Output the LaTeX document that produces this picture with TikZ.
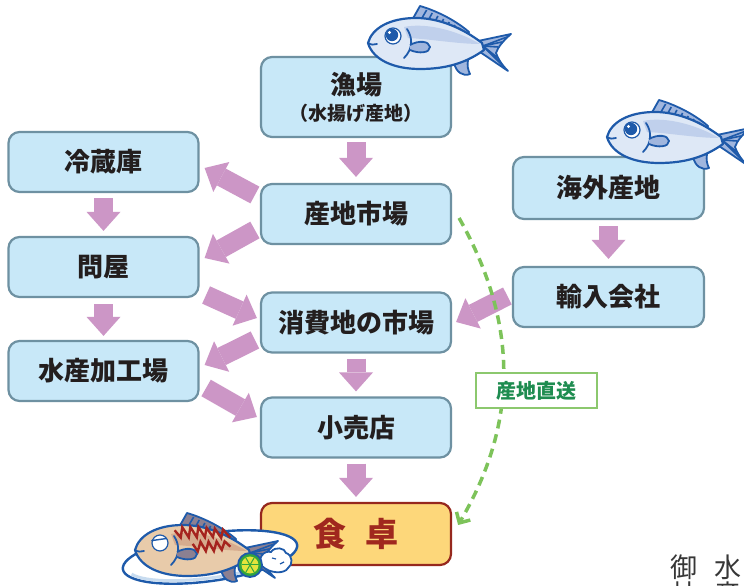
\documentclass[tikz,border=0pt]{standalone}
\usepackage{fontspec}
\setmainfont{Noto Sans CJK JP}
\usetikzlibrary{arrows.meta,calc}

\definecolor{boxfill}{RGB}{200,232,248}
\definecolor{boxline}{RGB}{110,145,162}
\definecolor{flowc}{RGB}{204,150,198}
\definecolor{inkc}{RGB}{35,30,30}
\definecolor{tablefill}{RGB}{253,215,122}
\definecolor{tableline}{RGB}{150,40,30}
\definecolor{tabletext}{RGB}{160,40,30}
\definecolor{directc}{RGB}{125,195,90}
\definecolor{directtext}{RGB}{30,140,80}
\definecolor{directline}{RGB}{140,200,110}
\definecolor{fishline}{RGB}{30,90,170}
\definecolor{bodyblue}{RGB}{222,232,246}
\definecolor{bandblue}{RGB}{192,208,236}
\definecolor{finblue}{RGB}{160,182,222}
\definecolor{grilltan}{RGB}{232,203,170}
\definecolor{grilldark}{RGB}{214,172,142}
\definecolor{grillfin}{RGB}{140,128,145}
\definecolor{grillmark}{RGB}{165,35,30}
\definecolor{limegreen}{RGB}{50,165,60}
\definecolor{limeyellow}{RGB}{228,228,60}
\definecolor{platerim}{RGB}{200,220,240}
\definecolor{sealgray}{RGB}{55,55,55}

\tikzset{
  stage/.style={draw=boxline, fill=boxfill, line width=2.2pt, rounded corners=11pt,
    minimum width=190pt, minimum height=60pt, inner sep=0pt, align=center,
    font=\fontsize{26}{29}\selectfont\bfseries, text=inkc},
  flow/.style={draw=flowc, line width=19pt,
    -{Triangle[length=19pt,width=34pt,line width=0pt]}},
  direct/.style={draw=directc, line width=3.5pt, dash pattern=on 9pt off 6pt,
    -{Straight Barb[length=8pt,width=16pt,line width=3.5pt]}},
  directlabel/.style={draw=directline, fill=white, line width=2.5pt,
    minimum width=121pt, minimum height=35pt, inner sep=0pt,
    font=\fontsize{20}{22}\selectfont\bfseries, text=directtext},
  fishfin/.style={draw=fishline, fill=finblue, line width=1.8pt, line join=round},
  fishstripe/.style={draw=fishline, line width=1.6pt},
  fishbody/.style={fill=bodyblue},
  fishband/.style={fill=bandblue},
  fishoutline/.style={draw=fishline, line width=2.2pt, line join=round},
  fishdetail/.style={draw=fishline, line width=1.8pt, line cap=round},
  fisheye/.style={draw=fishline, fill=white, line width=1.2pt},
  fishpupil/.style={fill=fishline},
  fishglint/.style={fill=white},
  fish/.pic={
    % tail fin
    \path[fishfin] (110,2) -- (143,9) .. controls (135,2) and (130,-4) .. (128,-10)
      .. controls (130,-16) and (134,-22) .. (140,-28) -- (112,-9) -- cycle;
    \foreach \q/\r in {139/6,134/1,130/-4,130/-15,133/-20,136/-24}
      \draw[fishstripe] (115,-3) -- (\q,\r);
    % dorsal fin
    \path[fishfin] (43,21) -- (52,37) .. controls (66,33) and (86,24) .. (101,11)
      -- (99,4) -- cycle;
    \foreach \q in {0.12,0.24,0.36,0.48,0.6,0.72,0.84}
      \draw[fishstripe] ({44+55*\q},{21-15*\q}) -- ({53+47*\q},{36-25*\q});
    % pelvic fin
    \path[fishfin] (86,-20) .. controls (88,-29) and (95,-34) .. (102,-31)
      .. controls (100,-27) and (99,-23) .. (100,-17) -- cycle;
    % body
    \path[fishbody] (0,0) .. controls (4,15) and (22,25) .. (48,25)
      .. controls (72,25) and (96,14) .. (114,0) -- (116,-7)
      .. controls (98,-20) and (78,-26) .. (52,-26)
      .. controls (26,-26) and (5,-17) .. (0,0) -- cycle;
    \path[fishband] (36,16) .. controls (60,21) and (92,11) .. (112,-1)
      .. controls (90,-1) and (62,4) .. (40,5) -- cycle;
    \path[fishoutline] (0,0) .. controls (4,15) and (22,25) .. (48,25)
      .. controls (72,25) and (96,14) .. (114,0) -- (116,-7)
      .. controls (98,-20) and (78,-26) .. (52,-26)
      .. controls (26,-26) and (5,-17) .. (0,0) -- cycle;
    % gill, pectoral fin, mouth
    \draw[fishdetail] (39,14) .. controls (45,5) and (45,-6) .. (36,-15);
    \path[fishfin] (42,-2) .. controls (51,3) and (61,2) .. (62,-4)
      .. controls (62,-10) and (51,-11) .. (42,-7);
    \draw[fishdetail] (0,0) .. controls (3,-2) and (6,-2) .. (9,-1);
    % eye
    \path[fisheye] (25,7) circle[radius=8];
    \path[fishpupil] (24,8) circle[radius=6.2];
    \path[fishglint] (21.5,10.5) circle[radius=1.6];
  }
}

\begin{document}
\begin{tikzpicture}[x=1pt,y=1pt]
\path[use as bounding box, fill=white] (0,0) rectangle (744,586);

% stages of the supply chain
\node[stage, minimum height=80pt] (gyojo) at (356,489)
  {漁場\\[-3pt]{\fontsize{19}{21}\selectfont （水揚げ産地）}};
\node[stage] (sanchi) at (356,372) {産地市場};
\node[stage] (shohi)  at (356,263.5) {消費地の市場};
\node[stage] (kouri)  at (356,158.5) {小売店};
\node[stage, draw=tableline, fill=tablefill, minimum height=62pt,
  font=\fontsize{33}{36}\selectfont\bfseries, text=tabletext] (table) at (356,52)
  {食\hspace{0.6em}卓};
\node[stage] (reizo) at (103.5,424) {冷蔵庫};
\node[stage] (tonya) at (103.5,319) {問屋};
\node[stage] (kako)  at (103.5,215) {水産加工場};
\node[stage, minimum width=191pt, minimum height=62pt] (kaigai) at (608.5,398) {海外産地};
\node[stage, minimum width=191pt] (yunyu) at (608.5,289) {輸入会社};

% vertical flows
\draw[flow, shorten <=4pt, shorten >=6pt] (gyojo) -- (sanchi);
\draw[flow, shorten <=5pt, shorten >=5pt] (reizo) -- (tonya);
\draw[flow, shorten <=6pt, shorten >=4pt] (tonya) -- (kako);
\draw[flow, shorten <=5pt, shorten >=5pt] (shohi) -- (kouri);
\draw[flow, shorten <=5pt, shorten >=5pt] (kouri) -- (table);
\draw[flow, shorten <=6pt, shorten >=7pt] (kaigai) -- (yunyu);

% diagonal flows
\draw[flow] ($(sanchi.west)+(-5,19)$) -- ($(reizo.east)+(5,-6)$);
\draw[flow] ($(sanchi.west)+(-5,-16)$) -- ($(tonya.east)+(5,9)$);
\draw[flow] ($(tonya.east)+(6.5,-28)$) -- ($(shohi.west)+(-3,4.5)$);
\draw[flow] ($(shohi.west)+(-5,-17.5)$) -- ($(kako.east)+(5,6)$);
\draw[flow] ($(kako.east)+(6.5,-17)$) -- ($(kouri.west)+(-3,10.5)$);
\draw[flow] ($(yunyu.west)+(-4.5,1)$) -- ($(shohi.east)+(4,0.5)$);

% direct delivery from the landing market
\draw[direct] ($(sanchi.east)+(7,-4)$) .. controls (520,260) and (517,161) .. ($(table.east)+(6,9)$);
\node[directlabel] (directtag) at (536.5,195.5) {産地直送};

% fish on the landing port and the overseas origin
\pic at (368,543) {fish};
\pic at (607,449) {fish};

% grilled fish on a plate
\begin{scope}[shift={(210,29)}, rotate=8]
  \path[draw=fishline, fill=white, line width=2.4pt] (0,0) ellipse[x radius=88, y radius=24];
  \draw[platerim, line width=3pt] (-80,-6) arc[start angle=195, end angle=330, x radius=84, y radius=20];
\end{scope}
\begin{scope}[shift={(135,36)}, rotate=8,
  fishbody/.style={fill=grilltan}, fishband/.style={fill=grilldark},
  fishfin/.style={draw=fishline, fill=grillfin, line width=1.8pt, line join=round},
  fishpupil/.style={}, fishglint/.style={}]
  \pic {fish};
  \draw[grillmark, line width=2.4pt, line join=miter]
    (42,14)--(47,6)--(50,16)--(55,5)--(58,15)--(63,4)--(66,14)--(71,3)--(74,12)
    --(79,2)--(82,10)--(87,0)--(90,8)--(96,-1);
  \draw[grillmark, line width=2.4pt, line join=miter]
    (58,-2)--(62,-10)--(66,-1)--(70,-11)--(74,-2)--(78,-12)--(82,-3)--(86,-12)
    --(90,-4)--(95,-10);
  \draw[fishdetail, line width=1.4pt] (18,7) -- (32,7);
\end{scope}
% grated radish and lime
\path[draw=fishline, fill=white, line width=1.8pt]
  (262,20) .. controls (257,28) and (264,36) .. (271,34)
  .. controls (275,40) and (285,38) .. (286,33)
  .. controls (293,31) and (293,21) .. (288,18)
  .. controls (285,12) and (270,12) .. cycle;
\draw[fishline, line width=1.2pt] (272,28) -- (276,27) (280,22) -- (284,24);
\path[draw=fishline, fill=limegreen, line width=1.8pt] (250,21) circle[radius=12];
\path[fill=limeyellow] (250,21) circle[radius=8.5];
\foreach \a in {0,60,...,300}
  \draw[limegreen, line width=1pt] (250,21) -- ++(\a:8.5);

% seal characters in the corner
\node[font=\fontsize{27}{27}\selectfont, text=sealgray] (sealA) at (683.5,18.5) {御};
\node[font=\fontsize{27}{27}\selectfont, text=sealgray] (sealB) at (727.5,18.5) {水};
\node[font=\fontsize{27}{27}\selectfont, text=sealgray] (sealC) at (683.5,-8.5) {林};
\node[font=\fontsize{27}{27}\selectfont, text=sealgray] (sealD) at (727.5,-8.5) {産};
\end{tikzpicture}
\end{document}
